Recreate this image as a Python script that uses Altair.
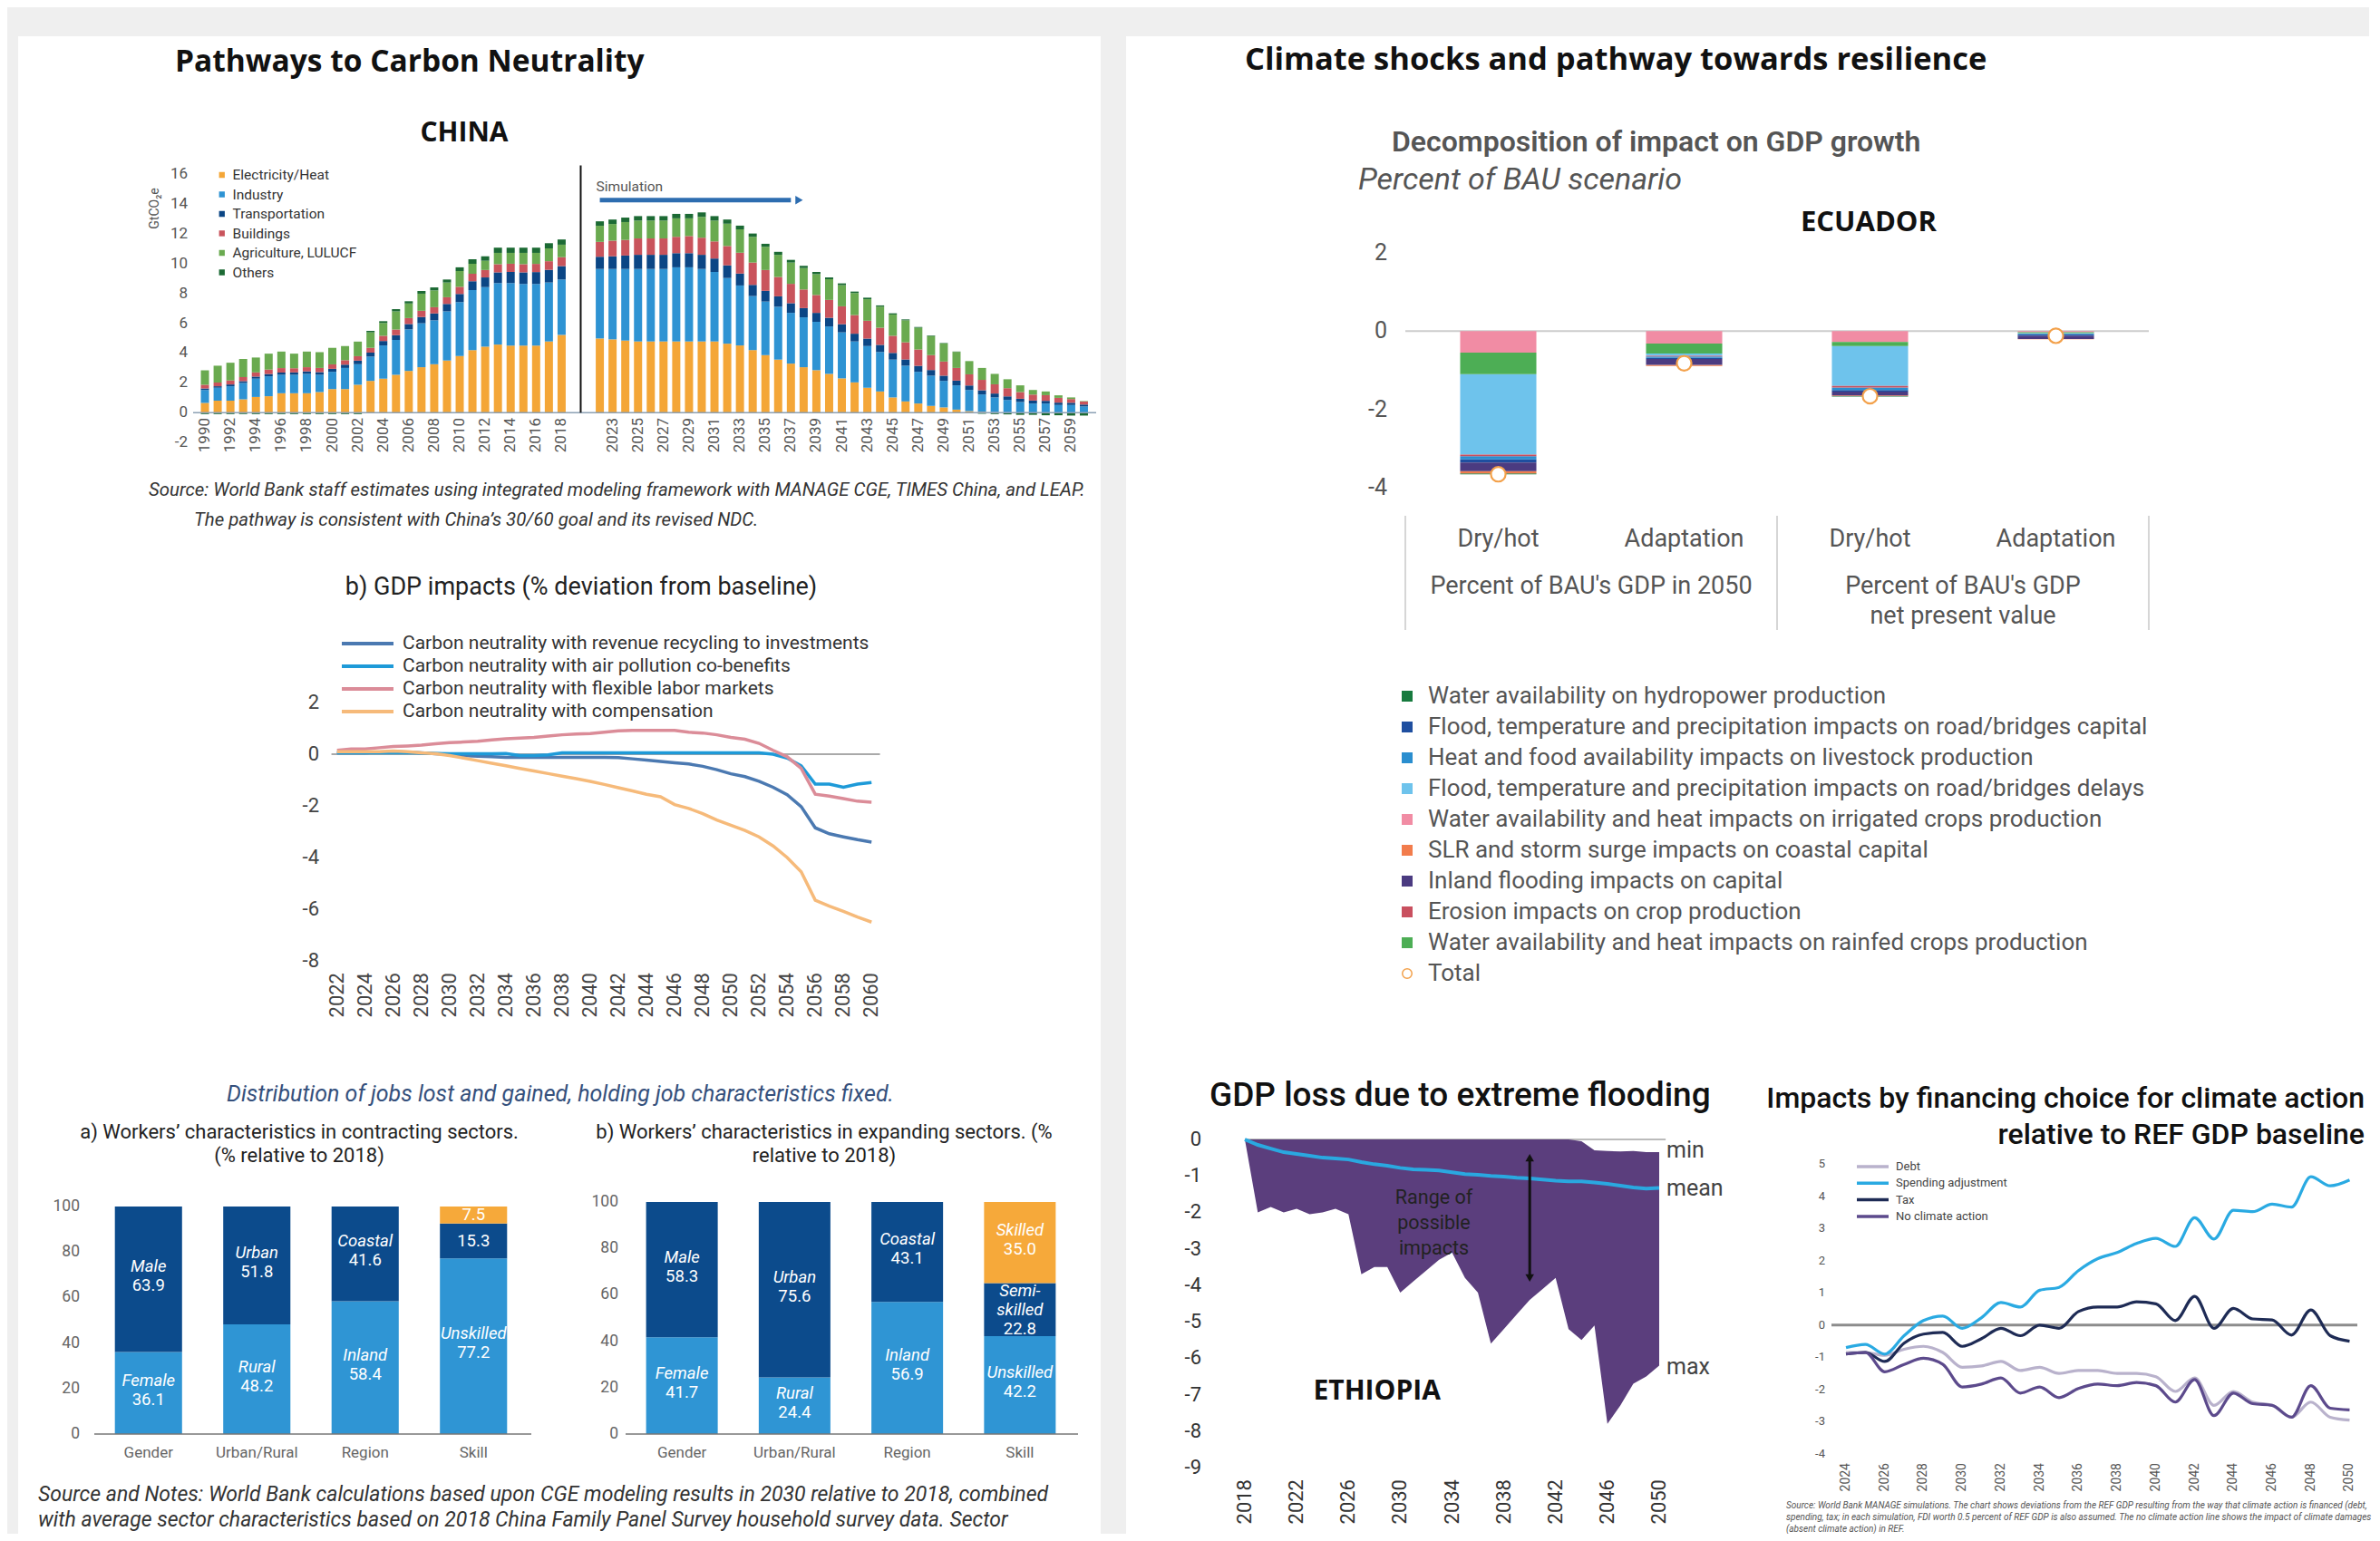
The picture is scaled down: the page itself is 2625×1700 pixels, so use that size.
import altair as alt
import pandas as pd

W, H = 2605, 1684
F = "Roboto"
FH = "Open Sans"

# ------------------------------------------------------------------ DATA
# China emissions (GtCO2e)
china_sectors = ["Electricity/Heat", "Industry", "Transportation", "Buildings",
                 "Agriculture, LULUCF", "Others"]
china_colors = ["#F4A637", "#2E93D3", "#0B4685", "#C9545C", "#6AAA50", "#1C6A34"]
china_hist_years = list(range(1990, 2019))
china_sim_years = list(range(2022, 2061))

hist_elec = [0.65, 0.8, 0.8, 0.9, 1.05, 1.1, 1.3, 1.3, 1.3, 1.38, 1.58, 1.58, 1.87, 2.13, 2.28,
             2.54, 2.8, 3.05, 3.25, 3.5, 3.8, 4.2, 4.43, 4.57, 4.5, 4.5, 4.5, 4.78, 5.22]
hist_ind = [0.87, 0.87, 0.97, 1.09, 1.23, 1.34, 1.24, 1.24, 1.3, 1.16, 1.16, 1.42, 1.38, 1.63, 2.23,
            2.34, 2.79, 2.95, 2.95, 3.3, 3.62, 4.03, 4.0, 4.13, 4.2, 4.14, 4.14, 3.96, 3.72]
hist_trans = [0.1, 0.1, 0.12, 0.12, 0.14, 0.15, 0.15, 0.16, 0.17, 0.18, 0.2, 0.22, 0.24, 0.27, 0.3,
              0.32, 0.36, 0.42, 0.46, 0.5, 0.55, 0.6, 0.65, 0.72, 0.75, 0.78, 0.8, 0.85, 0.9]
hist_bld = [0.25, 0.25, 0.27, 0.28, 0.28, 0.3, 0.3, 0.28, 0.28, 0.28, 0.3, 0.3, 0.3, 0.32, 0.35,
            0.38, 0.4, 0.42, 0.42, 0.45, 0.48, 0.5, 0.5, 0.55, 0.55, 0.55, 0.55, 0.58, 0.6]
hist_agri = [0.97, 1.13, 1.19, 1.21, 1.0, 1.07, 1.11, 0.98, 1.05, 1.06, 1.11, 0.95, 0.98, 1.04, 0.86,
             1.22, 0.98, 1.15, 1.13, 0.99, 1.06, 0.67, 0.62, 0.76, 0.73, 0.76, 0.74, 0.86, 0.84]
hist_oth = [-0.1, -0.1, -0.1, -0.1, -0.1, -0.1, -0.1, -0.1, -0.1, -0.1, -0.1, -0.1, -0.1, 0.1, 0.12,
            0.15, 0.15, 0.18, 0.2, 0.2, 0.25, 0.3, 0.3, 0.35, 0.35, 0.35, 0.35, 0.35, 0.35]

sim_elec = [4.98, 4.92, 4.84, 4.78, 4.78, 4.78, 4.78, 4.78, 4.78, 4.78, 4.63, 4.51, 4.2, 3.86, 3.56,
            3.29, 3.05, 2.85, 2.6, 2.3, 2.03, 1.67, 1.42, 1.02, 0.75, 0.61, 0.45, 0.35, 0.2, 0.1,
            0.05, 0.03, 0.02, 0.0, 0.0, 0.0, 0.0, 0.0, 0.0]
sim_ind = [4.67, 4.73, 4.81, 4.87, 4.87, 4.87, 4.98, 4.98, 4.87, 4.67, 4.41, 4.03, 3.63, 3.6, 3.55,
           3.41, 3.35, 3.25, 3.19, 3.09, 2.75, 2.8, 2.65, 2.54, 2.4, 2.13, 2.03, 1.78, 1.63, 1.42,
           1.17, 0.99, 0.83, 0.71, 0.61, 0.61, 0.51, 0.51, 0.41]
sim_trans = [0.82, 0.85, 0.9, 0.95, 0.95, 0.95, 0.95, 0.95, 0.95, 0.9, 0.85, 0.8, 0.75, 0.72, 0.7,
             0.65, 0.62, 0.6, 0.58, 0.55, 0.52, 0.5, 0.48, 0.45, 0.42, 0.4, 0.38, 0.35, 0.32, 0.3,
             0.28, 0.26, 0.24, 0.22, 0.2, 0.18, 0.16, 0.15, 0.13]
sim_bld = [1.0, 1.05, 1.05, 1.1, 1.1, 1.1, 1.1, 1.15, 1.15, 1.15, 1.3, 1.4, 1.5, 1.4, 1.3,
           1.3, 1.25, 1.2, 1.2, 1.2, 1.25, 1.2, 1.15, 1.15, 1.15, 1.1, 1.0, 0.95, 0.85, 0.75,
           0.7, 0.62, 0.55, 0.45, 0.4, 0.38, 0.32, 0.25, 0.2]
sim_agri = [1.08, 1.12, 1.2, 1.2, 1.2, 1.2, 1.24, 1.19, 1.4, 1.4, 1.5, 1.57, 1.73, 1.56, 1.49,
            1.43, 1.44, 1.4, 1.39, 1.42, 1.48, 1.45, 1.42, 1.43, 1.48, 1.46, 1.28, 1.21, 1.08, 0.89,
            0.8, 0.7, 0.6, 0.45, 0.31, 0.25, 0.17, 0.11, 0.03]
sim_oth = [0.3, 0.3, 0.3, 0.3, 0.3, 0.3, 0.3, 0.3, 0.3, 0.3, 0.28, 0.25, 0.22, 0.2, 0.2,
           0.18, 0.15, 0.15, 0.12, 0.12, 0.1, 0.1, 0.08, 0.08, 0.06, 0.05, 0.04, 0.03, 0.02, -0.05,
           -0.08, -0.1, -0.12, -0.15, -0.15, -0.18, -0.18, -0.2, -0.2]

china_x_domain = [str(y) for y in china_hist_years] + ["g1", "g2"] + [str(y) for y in china_sim_years]
china_x_labels = [str(y) for y in range(1990, 2019, 2)] + [str(y) for y in range(2023, 2060, 2)]
china_y_ticks = list(range(-2, 17, 2))

# China GDP impacts (% deviation from baseline)
gdp_years = list(range(2022, 2061))
gdp_series = ["Carbon neutrality with revenue recycling to investments",
              "Carbon neutrality with air pollution co-benefits",
              "Carbon neutrality with flexible labor markets",
              "Carbon neutrality with compensation"]
gdp_colors = ["#4B79B1", "#1E9AD8", "#DB8C98", "#F6BA7A"]
gdp_recycling = [0.05, 0.05, 0.05, 0.08, 0.1, 0.08, 0.05, 0.02, 0.0, -0.05, -0.08, -0.1, -0.12, -0.12,
                 -0.12, -0.12, -0.12, -0.12, -0.12, -0.12, -0.13, -0.18, -0.23, -0.28, -0.33, -0.38,
                 -0.47, -0.6, -0.76, -0.87, -1.05, -1.28, -1.57, -2.03, -2.85, -3.08, -3.2, -3.31, -3.4]
gdp_airpoll = [0.05, 0.05, 0.05, 0.05, 0.05, 0.05, 0.04, 0.03, 0.02, 0.02, 0.02, 0.02, 0.03, -0.05,
               -0.05, -0.03, 0.05, 0.05, 0.05, 0.05, 0.05, 0.05, 0.05, 0.05, 0.05, 0.05, 0.05, 0.05,
               0.05, 0.05, 0.05, 0.0, -0.15, -0.45, -1.16, -1.16, -1.28, -1.16, -1.1]
gdp_flexlabor = [0.15, 0.2, 0.2, 0.25, 0.3, 0.32, 0.35, 0.4, 0.45, 0.47, 0.5, 0.55, 0.6, 0.62, 0.65,
                 0.7, 0.75, 0.78, 0.8, 0.85, 0.9, 0.92, 0.92, 0.92, 0.92, 0.85, 0.82, 0.75, 0.65,
                 0.58, 0.42, 0.15, -0.1, -0.55, -1.55, -1.62, -1.72, -1.82, -1.86]
gdp_compens = [0.1, 0.1, 0.1, 0.1, 0.12, 0.1, 0.05, 0.02, -0.05, -0.15, -0.25, -0.35, -0.45, -0.55,
               -0.65, -0.75, -0.85, -0.95, -1.05, -1.17, -1.3, -1.42, -1.55, -1.65, -1.95, -2.1,
               -2.3, -2.55, -2.75, -2.95, -3.2, -3.55, -4.0, -4.55, -5.65, -5.88, -6.08, -6.3, -6.5]
gdp_y_ticks = [-8, -6, -4, -2, 0, 2]
gdp_x_ticks = list(range(2022, 2061, 2))

# Jobs (% relative to 2018)
jobs_cats = ["Gender", "Urban/Rural", "Region", "Skill"]
jobs_seg_cat = ["Gender", "Gender", "Urban/Rural", "Urban/Rural", "Region", "Region",
                "Skill", "Skill", "Skill"]
jobs_seg_tone = ["light", "dark", "light", "dark", "light", "dark", "light", "dark", "orange"]
jobs_seg_order = [0, 1, 0, 1, 0, 1, 0, 1, 2]
jobs_a_name = ["Female", "Male", "Rural", "Urban", "Inland", "Coastal", "Unskilled", "", ""]
jobs_a_value = [36.1, 63.9, 48.2, 51.8, 58.4, 41.6, 77.2, 15.3, 7.5]
jobs_b_name = ["Female", "Male", "Rural", "Urban", "Inland", "Coastal", "Unskilled",
               "Semi-\nskilled", "Skilled"]
jobs_b_value = [41.7, 58.3, 24.4, 75.6, 56.9, 43.1, 42.2, 22.8, 35.0]
jobs_tones = ["light", "dark", "orange"]
jobs_colors = ["#2F95D4", "#0C4B8C", "#F6A93A"]
jobs_y_ticks = list(range(0, 101, 20))

# Ecuador decomposition (% of BAU)
ecu_bars = ["d50", "a50", "dnpv", "anpv"]
ecu_bar_labels = ["Dry/hot", "Adaptation", "Dry/hot", "Adaptation"]
ecu_components = ["Water availability on hydropower production",
                  "Flood, temperature and precipitation impacts on road/bridges capital",
                  "Heat and food availability impacts on livestock production",
                  "Flood, temperature and precipitation impacts on road/bridges delays",
                  "Water availability and heat impacts on irrigated crops production",
                  "SLR and storm surge impacts on coastal capital",
                  "Inland flooding impacts on capital",
                  "Erosion impacts on crop production",
                  "Water availability and heat impacts on rainfed crops production"]
ecu_colors = ["#177A3E", "#1F4FA0", "#2A8ECF", "#6EC3EC", "#F18CA4", "#F27C4C",
              "#4B3B81", "#C9505F", "#4DAE55"]
ecu_stack_rank = [8, 5, 4, 2, 0, 7, 6, 3, 1]
ecu_values = [
    [-0.02, 0.0, -0.01, 0.0],
    [-0.08, -0.03, -0.04, -0.03],
    [-0.08, -0.03, -0.06, -0.02],
    [-2.05, -0.06, -1.02, -0.02],
    [-0.55, -0.32, -0.28, -0.03],
    [-0.06, -0.03, -0.02, -0.01],
    [-0.22, -0.15, -0.1, -0.08],
    [-0.04, -0.02, -0.04, 0.0],
    [-0.55, -0.25, -0.1, -0.02],
]
ecu_totals = [-3.65, -0.82, -1.66, -0.12]
ecu_y_ticks = [-4, -2, 0, 2]

# Ethiopia GDP loss
eth_years = list(range(2018, 2051))
eth_max = [0.0, -2.0, -1.85, -2.0, -1.9, -2.05, -2.0, -1.9, -2.05, -3.7, -3.5, -3.5, -4.2, -3.9,
           -3.6, -3.3, -3.1, -3.8, -4.2, -5.6, -5.2, -4.8, -4.4, -4.1, -3.8, -5.2, -5.5, -5.1,
           -7.8, -7.3, -6.7, -6.5, -6.2]
eth_min = [0.0] * 26 + [-0.05, -0.3, -0.32, -0.33, -0.32, -0.35, -0.35]
eth_mean = [0.0, -0.15, -0.25, -0.35, -0.4, -0.45, -0.5, -0.52, -0.55, -0.62, -0.68, -0.72, -0.78,
            -0.82, -0.83, -0.85, -0.9, -0.95, -0.97, -1.0, -1.02, -1.05, -1.07, -1.1, -1.13,
            -1.15, -1.15, -1.18, -1.22, -1.27, -1.32, -1.35, -1.33]
eth_y_ticks = list(range(-9, 1))
eth_x_ticks = list(range(2018, 2051, 4))

# Financing choice
fin_years = list(range(2024, 2051))
fin_series = ["Debt", "Spending adjustment", "Tax", "No climate action"]
fin_colors = ["#B9B2CC", "#2AAAE2", "#1E2B55", "#5C4A8C"]
fin_debt = [-0.85, -0.85, -0.94, -0.75, -0.66, -0.85, -1.31, -1.27, -1.13, -1.41, -1.31, -1.5,
            -1.41, -1.41, -1.5, -1.5, -1.6, -2.06, -1.64, -2.49, -2.06, -2.39, -2.49, -2.86,
            -2.39, -2.86, -2.95]
fin_spend = [-0.7, -0.6, -0.9, -0.33, 0.14, 0.28, -0.1, 0.23, 0.7, 0.56, 1.08, 1.17, 1.69, 2.06,
             2.25, 2.53, 2.69, 2.44, 3.33, 2.67, 3.56, 3.52, 3.75, 3.66, 4.6, 4.32, 4.5]
fin_tax = [-0.9, -0.85, -1.13, -0.56, -0.28, -0.23, -0.66, -0.42, -0.1, -0.33, 0.0, -0.1, 0.42,
           0.56, 0.56, 0.72, 0.66, 0.14, 0.89, -0.1, 0.52, 0.19, 0.16, -0.31, 0.47, -0.33, -0.5]
fin_noaction = [-0.9, -0.85, -1.45, -1.22, -1.03, -1.22, -1.92, -1.83, -1.64, -2.11, -1.92, -2.25,
                -1.97, -1.83, -1.88, -1.78, -1.88, -2.39, -1.69, -2.81, -2.11, -2.44, -2.49,
                -2.86, -1.88, -2.58, -2.63]
fin_y_ticks = list(range(-4, 6))
fin_x_ticks = list(range(2024, 2051, 2))

# ------------------------------------------------------------------ TABLES
rows = []
hist = [hist_elec, hist_ind, hist_trans, hist_bld, hist_agri, hist_oth]
sim = [sim_elec, sim_ind, sim_trans, sim_bld, sim_agri, sim_oth]
for si, s in enumerate(china_sectors):
    for yi, yr in enumerate(china_hist_years):
        rows.append({"year": str(yr), "sector": s, "value": hist[si][yi], "sorder": si})
    for yi, yr in enumerate(china_sim_years):
        rows.append({"year": str(yr), "sector": s, "value": sim[si][yi], "sorder": si})
china_df = pd.DataFrame(rows)

gdp_vals = [gdp_recycling, gdp_airpoll, gdp_flexlabor, gdp_compens]
gdp_df = pd.DataFrame([{"year": y, "series": s, "value": gdp_vals[si][yi]}
                       for si, s in enumerate(gdp_series) for yi, y in enumerate(gdp_years)])


def jobs_df(names, values):
    parts = [n.split("\n") for n in names]
    return pd.DataFrame({"cat": jobs_seg_cat, "value": values,
                         "ntop": [p[0] if len(p) > 1 else "" for p in parts],
                         "nbot": [p[-1] for p in parts],
                         "tone": jobs_seg_tone, "sorder": jobs_seg_order})


ecu_df = pd.DataFrame([{"bar": b, "component": c, "value": ecu_values[ci][bi],
                        "sorder": ecu_stack_rank[ci]}
                       for ci, c in enumerate(ecu_components) for bi, b in enumerate(ecu_bars)])
ecu_tot_df = pd.DataFrame({"bar": ecu_bars, "value": ecu_totals, "kind": ["Total"] * 4})

eth_df = pd.DataFrame({"year": eth_years, "max": eth_max, "min": eth_min, "mean": eth_mean})

fin_vals = [fin_debt, fin_spend, fin_tax, fin_noaction]
fin_df = pd.DataFrame([{"year": y, "series": s, "value": fin_vals[si][yi]}
                       for si, s in enumerate(fin_series) for yi, y in enumerate(fin_years)])

one = pd.DataFrame({"k": [0]})


# ------------------------------------------------------------------ HELPERS
def txt(s, x, y, size, weight="normal", style="normal", color="#222", align="left", font=F,
        angle=0):
    return alt.Chart(one).mark_text(text=s, fontSize=size, fontWeight=weight, fontStyle=style,
                                    color=color, align=align, baseline="middle", font=font,
                                    angle=angle).encode(x=alt.value(x), y=alt.value(y))


def rect(x0, x1, y0, y1, color):
    return alt.Chart(one).mark_rect(color=color).encode(
        x=alt.value(x0), x2=alt.value(x1), y=alt.value(y0), y2=alt.value(y1))


def vrule(x, y0, y1, color, width):
    return alt.Chart(one).mark_rule(color=color, strokeWidth=width).encode(
        x=alt.value(x), y=alt.value(y0), y2=alt.value(y1))


def y_tick_labels(ticks, field, scale, x, size, color):
    """Left-axis tick labels placed through the chart's own y scale."""
    df = pd.DataFrame({field: ticks, "lab": [str(t) for t in ticks]})
    return alt.Chart(df).mark_text(align="right", baseline="middle", fontSize=size, color=color,
                                   font=F).encode(
        y=alt.Y(f"{field}:Q", scale=scale, axis=None), x=alt.value(x), text="lab:N")


def x_tick_labels(ticks, field, ftype, scale, y, size, color, labels=None, rotate=True):
    """Bottom-axis tick labels placed through the chart's own x scale."""
    df = pd.DataFrame({field: ticks, "lab": labels if labels else [str(t) for t in ticks]})
    if rotate:
        mk = alt.Chart(df).mark_text(angle=270, align="right", baseline="middle", fontSize=size,
                                     color=color, font=F)
    else:
        mk = alt.Chart(df).mark_text(align="center", baseline="top", fontSize=size,
                                     color=color, font=F)
    return mk.encode(x=alt.X(f"{field}:{ftype}", scale=scale, axis=None), y=alt.value(y),
                     text="lab:N")


# ------------------------------------------------------------------ CHINA BARS
cx = alt.Scale(domain=china_x_domain, range=[211, 1194.5], paddingInner=0.36, paddingOuter=0.18)
cy = alt.Scale(domain=[-2, 17], range=[480, 168], nice=False, zero=False)

china_bars = alt.Chart(china_df).mark_bar().encode(
    x=alt.X("year:N", scale=cx, axis=None),
    y=alt.Y("value:Q", stack="zero", scale=cy, axis=None),
    color=alt.Color("sector:N", scale=alt.Scale(domain=china_sectors, range=china_colors),
                    legend=alt.Legend(orient="none", legendX=229, legendY=178, title=None,
                                      symbolType="square", symbolSize=40, labelFontSize=15.5,
                                      labelColor="#333", labelFont=F, clipHeight=14,
                                      rowPadding=5.5, labelOffset=4, symbolStrokeWidth=0,
                                      labelLimit=500, padding=0)),
    order=alt.Order("sorder:Q", sort="ascending"),
)
china_base = alt.Chart(one).mark_rule(color="#8CA0B3", strokeWidth=1.5).encode(
    x=alt.value(205), x2=alt.value(1201), y=alt.Y(datum=0, scale=cy, axis=None))
china_vline = alt.Chart(pd.DataFrame({"year": ["g1"], "value": [0.0], "value2": [16.6]})).mark_rule(
    color="#111", strokeWidth=2, xOffset=7).encode(
    x=alt.X("year:N", scale=cx, axis=None), y=alt.Y("value:Q", scale=cy, axis=None), y2="value2:Q")
china_arrow = alt.Chart(pd.DataFrame({"year": ["2022", "2037"], "value": [14.27, 14.27]})).mark_line(
    color="#2D6DB0", strokeWidth=5).encode(
    x=alt.X("year:N", scale=cx, axis=None), y=alt.Y("value:Q", scale=cy, axis=None))
china_tip = alt.Chart(pd.DataFrame({"year": ["2038"], "value": [14.27]})).mark_point(
    shape="triangle-right", filled=True, color="#2D6DB0", size=90, opacity=1, xOffset=-5).encode(
    x=alt.X("year:N", scale=cx, axis=None), y=alt.Y("value:Q", scale=cy, axis=None))
china_sim = alt.Chart(pd.DataFrame({"year": ["2022"], "value": [15.2], "t": ["Simulation"]})).mark_text(
    align="left", dx=-4, fontSize=15.5, color="#555", font=F).encode(
    x=alt.X("year:N", scale=cx, axis=None), y=alt.Y("value:Q", scale=cy, axis=None), text="t:N")
china = alt.layer(
    china_bars, china_base, china_vline, china_arrow, china_tip, china_sim,
    y_tick_labels(china_y_ticks, "value", cy, 199, 17, "#555"),
    x_tick_labels(china_x_labels, "year", "N", cx, 453, 17, "#555"),
    txt("GtCO₂e", 163, 222, 14, color="#555", align="center", angle=270),
)

# ------------------------------------------------------------------ GDP LINES
gx = alt.Scale(domain=[2021.5, 2060.5], range=[356, 961], nice=False, zero=False)
gy = alt.Scale(domain=[-8, 2], range=[1052, 767], nice=False, zero=False)
gdp_zero = alt.Chart(one).mark_rule(color="#555", strokeWidth=1.2).encode(
    x=alt.X(datum=2021.6, scale=gx, axis=None), x2=alt.datum(2060.6),
    y=alt.Y(datum=0, scale=gy, axis=None))
gdp_lines = alt.Chart(gdp_df).mark_line(strokeWidth=3.5).encode(
    x=alt.X("year:Q", scale=gx, axis=None),
    y=alt.Y("value:Q", scale=gy, axis=None),
    color=alt.Color("series:N", sort=gdp_series, scale=alt.Scale(domain=gdp_series, range=gdp_colors),
                    legend=alt.Legend(orient="none", legendX=367, legendY=691, title=None,
                                      symbolType="stroke", symbolSize=3249, symbolStrokeWidth=4,
                                      labelFontSize=21, labelColor="#333", labelFont=F,
                                      clipHeight=22, rowPadding=3, labelOffset=8,
                                      labelLimit=900, padding=0)),
)
gdp = alt.layer(gdp_zero, gdp_lines,
                y_tick_labels(gdp_y_ticks, "value", gy, 344, 22, "#444"),
                x_tick_labels(gdp_x_ticks, "year", "Q", gx, 1065, 22, "#444"))


# ------------------------------------------------------------------ JOBS
def jobs_chart(df, xr, yr, pin, ypad, base_x1):
    xs = alt.Scale(domain=jobs_cats, range=xr, paddingInner=pin, paddingOuter=pin / 2)
    ys = alt.Scale(domain=[0, 100], range=yr, nice=False, zero=False)
    bars = alt.Chart(df).mark_bar().encode(
        x=alt.X("cat:N", scale=xs, axis=None),
        y=alt.Y("value:Q", stack="zero", scale=ys, axis=None),
        color=alt.Color("tone:N", scale=alt.Scale(domain=jobs_tones, range=jobs_colors), legend=None),
        order=alt.Order("sorder:Q", sort="ascending"),
    )
    baseline = alt.Chart(one).mark_rule(color="#777", strokeWidth=1.5).encode(
        x=alt.value(xr[0]), x2=alt.value(base_x1), y=alt.Y(datum=0, scale=ys, axis=None))
    base = alt.Chart(df).transform_stack(
        stack="value", groupby=["cat"], as_=["y0", "y1"],
        sort=[alt.SortField(field="sorder", order="ascending")]).transform_calculate(
        mid="(datum.y0 + datum.y1) / 2", vlabel="format(datum.value, '.1f')")
    enc = dict(x=alt.X("cat:N", scale=xs, axis=None), y=alt.Y("mid:Q", scale=ys, axis=None))
    it = dict(color="white", fontSize=18.5, fontStyle="italic", font=F)
    rg = dict(color="white", fontSize=18.5, font=F)
    two = base.transform_filter("datum.nbot != '' && datum.ntop == ''")
    three = base.transform_filter("datum.ntop != ''")
    layers = [
        two.mark_text(baseline="bottom", dy=-4, **it).encode(text="nbot:N", **enc),
        two.mark_text(baseline="top", dy=-2, **rg).encode(text="vlabel:N", **enc),
        three.mark_text(baseline="middle", dy=-21, **it).encode(text="ntop:N", **enc),
        three.mark_text(baseline="middle", dy=0, **it).encode(text="nbot:N", **enc),
        three.mark_text(baseline="middle", dy=21, **rg).encode(text="vlabel:N", **enc),
        base.transform_filter("datum.nbot == ''").mark_text(baseline="middle", **rg).encode(
            text="vlabel:N", **enc),
    ]
    return alt.layer(bars, baseline, *layers,
                     y_tick_labels(jobs_y_ticks, "value", ys, xr[0] - ypad, 17.5, "#666"),
                     x_tick_labels(jobs_cats, "cat", "N", xs, yr[0] + 13, 17, "#666",
                                   rotate=False))


jobs_a = jobs_chart(jobs_df(jobs_a_name, jobs_a_value), [96, 574], [1574, 1323], 0.38, 16, 578)
jobs_b = jobs_chart(jobs_df(jobs_b_name, jobs_b_value), [682, 1179], [1574, 1318], 0.364, 8, 1181)

# ------------------------------------------------------------------ ECUADOR
ex = alt.Scale(domain=ecu_bars, range=[1542, 2362], paddingInner=0.59, paddingOuter=0.295)
ey = alt.Scale(domain=[-4.5, 2.2], range=[552, 262], nice=False, zero=False)
ecu_zero = alt.Chart(one).mark_rule(color="#CCCCCC", strokeWidth=2).encode(
    x=alt.value(1542), x2=alt.value(2362), y=alt.Y(datum=0, scale=ey, axis=None))
ecu_barmarks = alt.Chart(ecu_df).mark_bar().encode(
    x=alt.X("bar:N", scale=ex, axis=None),
    y=alt.Y("value:Q", stack="zero", scale=ey, axis=None),
    color=alt.Color("component:N", scale=alt.Scale(domain=ecu_components, range=ecu_colors),
                    legend=alt.Legend(orient="none", legendX=1531, legendY=747, title=None,
                                      symbolType="square", symbolSize=144, symbolStrokeWidth=0,
                                      labelFontSize=26, labelColor="#555", labelFont=F,
                                      clipHeight=26, rowPadding=8, labelOffset=10,
                                      labelLimit=1000, padding=0)),
    order=alt.Order("sorder:Q", sort="ascending"),
)
ecu_points = alt.Chart(ecu_tot_df).mark_point(
    filled=False, fill="white", strokeWidth=2.2, size=260, opacity=1).encode(
    x=alt.X("bar:N", scale=ex, axis=None), y=alt.Y("value:Q", scale=ey, axis=None),
    stroke=alt.Stroke("kind:N", scale=alt.Scale(domain=["Total"], range=["#F3A14B"]),
                      legend=alt.Legend(orient="none", legendX=1531, legendY=1053, title=None,
                                        symbolType="circle", symbolSize=110,
                                        symbolFillColor="white", symbolStrokeWidth=1.5,
                                        labelFontSize=26, labelColor="#555", labelFont=F,
                                        clipHeight=26, labelOffset=10, padding=0)))
ecu_groups = alt.Chart(pd.DataFrame({
    "bar": ["d50", "dnpv"],
    "label": ["Percent of BAU's GDP in 2050", "Percent of BAU's GDP\nnet present value"]})).mark_text(
    lineBreak="\n", baseline="top", fontSize=27, color="#555", font=F, xOffset=102.5,
    lineHeight=33).encode(x=alt.X("bar:N", scale=ex, axis=None), y=alt.value(626), text="label:N")
ecu = alt.layer(ecu_zero, ecu_barmarks, ecu_points, ecu_groups,
                vrule(1542, 561, 687, "#C8C8C8", 1.5), vrule(1952, 561, 687, "#C8C8C8", 1.5),
                vrule(2362, 561, 687, "#C8C8C8", 1.5),
                y_tick_labels(ecu_y_ticks, "value", ey, 1522, 25, "#555"),
                x_tick_labels(ecu_bars, "bar", "N", ex, 574, 27, "#555", labels=ecu_bar_labels,
                              rotate=False))

# ------------------------------------------------------------------ ETHIOPIA
tx = alt.Scale(domain=[2018, 2050], range=[1365, 1822], nice=False, zero=False)
ty = alt.Scale(domain=[-9, 0], range=[1611, 1249], nice=False, zero=False)
eth_zero = alt.Chart(one).mark_rule(color="#BBBBBB", strokeWidth=2).encode(
    x=alt.X(datum=2018, scale=tx, axis=None), x2=alt.datum(2050.5), y=alt.Y(datum=0, scale=ty, axis=None))
eth_area = alt.Chart(eth_df).mark_area(color="#5B3E7D", opacity=1).encode(
    x=alt.X("year:Q", scale=tx, axis=None),
    y=alt.Y("max:Q", scale=ty, axis=None),
    y2="min:Q")
eth_mean_line = alt.Chart(eth_df).mark_line(color="#2AA8E0", strokeWidth=4).encode(
    x=alt.X("year:Q", scale=tx, axis=None), y=alt.Y("mean:Q", scale=ty, axis=None))
eth_lab = alt.Chart(pd.DataFrame({"year": [2050] * 3, "max": [-0.3, -1.34, -6.24],
                                  "t": ["min", "mean", "max"]})).mark_text(
    align="left", dx=8, fontSize=25, color="#444", font=F).encode(
    x=alt.X("year:Q", scale=tx, axis=None), y=alt.Y("max:Q", scale=ty, axis=None), text="t:N")
eth_range = alt.Chart(pd.DataFrame({"year": [2032.6], "max": [-1.62],
                                    "t": ["Range of\npossible\nimpacts"]})).mark_text(
    lineBreak="\n", align="center", baseline="middle", fontSize=21.5, color="#222", font=F,
    lineHeight=28).encode(x=alt.X("year:Q", scale=tx, axis=None),
                          y=alt.Y("max:Q", scale=ty, axis=None), text="t:N")
eth_arrow = alt.Chart(pd.DataFrame({"year": [2040], "max": [-0.5], "v2": [-3.8]})).mark_rule(
    color="#111", strokeWidth=3).encode(x=alt.X("year:Q", scale=tx, axis=None),
                                        y=alt.Y("max:Q", scale=ty, axis=None), y2="v2:Q")
eth_heads = alt.Chart(pd.DataFrame({"year": [2040, 2040], "max": [-0.5, -3.8],
                                    "s": ["triangle-up", "triangle-down"]})).mark_point(
    filled=True, color="#111", size=90, opacity=1).encode(
    x=alt.X("year:Q", scale=tx, axis=None), y=alt.Y("max:Q", scale=ty, axis=None),
    shape=alt.Shape("s:N", scale=None, legend=None))
eth_name = alt.Chart(pd.DataFrame({"year": [2028.2], "max": [-6.9], "t": ["ETHIOPIA"]})).mark_text(
    fontSize=30, fontWeight="bold", color="#111", font=FH, align="center").encode(
    x=alt.X("year:Q", scale=tx, axis=None), y=alt.Y("max:Q", scale=ty, axis=None), text="t:N")
eth = alt.layer(eth_zero, eth_area, eth_mean_line, eth_lab, eth_range, eth_arrow, eth_heads,
                eth_name,
                y_tick_labels(eth_y_ticks, "max", ty, 1317, 22, "#333"),
                x_tick_labels(eth_x_ticks, "year", "Q", tx, 1624, 22, "#333"))

# ------------------------------------------------------------------ FINANCING
fx = alt.Scale(domain=[2023.25, 2050.4], range=[2012, 2592], nice=False, zero=False)
fy = alt.Scale(domain=[-4, 5], range=[1596, 1276], nice=False, zero=False)
fin_zero = alt.Chart(one).mark_rule(color="#8C8C8C", strokeWidth=3).encode(
    x=alt.X(datum=2023.25, scale=fx, axis=None), x2=alt.datum(2050.4), y=alt.Y(datum=0, scale=fy, axis=None))
fin_lines = alt.Chart(fin_df).mark_line(strokeWidth=3.2, interpolate="monotone").encode(
    x=alt.X("year:Q", scale=fx, axis=None),
    y=alt.Y("value:Q", scale=fy, axis=None),
    color=alt.Color("series:N", sort=fin_series, scale=alt.Scale(domain=fin_series, range=fin_colors),
                    legend=alt.Legend(orient="none", legendX=2038, legendY=1273, title=None,
                                      symbolType="stroke", symbolSize=1225, symbolStrokeWidth=3.5,
                                      labelFontSize=13, labelColor="#444", labelFont=F,
                                      clipHeight=12, rowPadding=5.3, labelOffset=6,
                                      labelLimit=500, padding=0)),
)
fin = alt.layer(fin_zero, fin_lines,
                y_tick_labels(fin_y_ticks, "value", fy, 2005, 13, "#555"),
                x_tick_labels(fin_x_ticks, "year", "Q", fx, 1606, 14, "#555"))

# ------------------------------------------------------------------ BACKGROUND + TEXT
texts = [
    txt("Pathways to Carbon Neutrality", 185, 61, 33.5, weight="bold", color="#111", font=FH),
    txt("CHINA", 504, 139, 30, weight="bold", color="#111", align="center", font=FH),
    txt("Source: World Bank staff estimates using integrated modeling framework with MANAGE CGE, "
        "TIMES China, and LEAP.", 156, 533, 20.4, style="italic", color="#333"),
    txt("The pathway is consistent with China’s 30/60 goal and its revised NDC.", 206, 566, 20.4,
        style="italic", color="#333"),
    txt("b) GDP impacts (% deviation from baseline)", 633, 640, 27, color="#222", align="center"),
    txt("Distribution of jobs lost and gained, holding job characteristics fixed.", 610, 1199, 25,
        style="italic", color="#35507C", align="center"),
    txt("a) Workers’ characteristics in contracting sectors.", 322, 1241, 22, align="center"),
    txt("(% relative to 2018)", 322, 1267, 22, align="center"),
    txt("b) Workers’ characteristics in expanding sectors. (%", 901, 1241, 22, align="center"),
    txt("relative to 2018)", 901, 1267, 22, align="center"),
    txt("Source and Notes: World Bank calculations based upon CGE modeling results in 2030 relative "
        "to 2018, combined", 34, 1641, 23, style="italic", color="#333"),
    txt("with average sector characteristics based on 2018 China Family Panel Survey household "
        "survey data. Sector", 34, 1669, 23, style="italic", color="#333"),
    txt("Climate shocks and pathway towards resilience", 1365, 59, 34.5, weight="bold", color="#111",
        font=FH),
    txt("Decomposition of impact on GDP growth", 1527, 149, 32, weight=600, color="#555"),
    txt("Percent of BAU scenario", 1490, 191, 34, style="italic", color="#555"),
    txt("ECUADOR", 2053, 238, 31, weight="bold", color="#111", align="center", font=FH),
    txt("GDP loss due to extreme flooding", 1326, 1201, 37, weight=500, color="#111"),
    txt("Impacts by financing choice for climate action", 2600, 1204, 32, weight=500,
        color="#111", align="right"),
    txt("relative to REF GDP baseline", 2600, 1244, 32, weight=500, color="#111", align="right"),
    txt("Source: World Bank MANAGE simulations. The chart shows deviations from the REF GDP resulting "
        "from the way that climate action is financed (debt,", 1962, 1653, 10, style="italic",
        color="#555"),
    txt("spending, tax; in each simulation, FDI worth 0.5 percent of REF GDP is also assumed. The no "
        "climate action line shows the impact of climate damages", 1962, 1666, 10,
        style="italic", color="#555"),
    txt("(absent climate action) in REF.", 1962, 1679, 10, style="italic", color="#555"),
]

# gray page strips around the two white panels
background = [rect(0, W, 0, 32, "#EFEFEF"), rect(0, 12, 32, H, "#EFEFEF"),
              rect(1206, 1234, 32, H, "#EFEFEF")]

chart = alt.layer(
    *background, *texts, china, gdp, jobs_a, jobs_b, ecu, eth, fin
).resolve_scale(
    x="independent", y="independent", color="independent", shape="independent"
).resolve_legend(
    color="independent", shape="independent"
).properties(
    width=W, height=H, background="white", padding=0
).configure_view(stroke=None)

chart.save("out.html", embed_options={"renderer": "svg", "actions": False})
